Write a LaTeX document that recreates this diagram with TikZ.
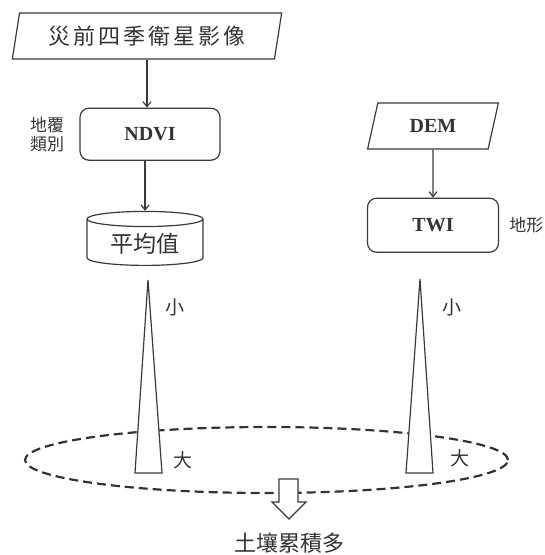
\documentclass[tikz,border=0pt]{standalone}
\usepackage{fontspec}
\setmainfont{Liberation Serif}
\newfontfamily\cjk{Noto Sans CJK TC}
\usepackage{tikz}
\usetikzlibrary{shapes.geometric, arrows.meta, positioning}
\definecolor{edge}{HTML}{3A3A3A}
\definecolor{ink}{HTML}{333333}

\begin{document}
\begin{tikzpicture}[
    x=1pt, y=1pt,
    inputbox/.style={trapezium, trapezium stretches=true, draw=edge, line width=1.2pt, fill=white,
                     minimum height=46pt, text=ink},
    procbox/.style={rectangle, rounded corners=9pt, draw=edge, line width=1.2pt, fill=white,
                    minimum height=52pt, font=\fontsize{20}{24}\selectfont\bfseries, text=ink},
    store/.style={cylinder, shape border rotate=90, aspect=0.2, draw=edge, line width=1.2pt, fill=white,
                  minimum width=116pt, minimum height=54pt, font=\cjk\fontsize{23}{26}\selectfont, text=ink},
    note/.style={font=\cjk\fontsize{17}{19}\selectfont, text=ink, align=center, inner sep=0pt},
    size/.style={font=\cjk\fontsize{19}{20}\selectfont, text=ink, inner sep=0pt},
    arrow/.style={-{Straight Barb[length=5pt, width=8pt]}, line width=1.2pt, color=edge},
    spike/.style={draw=edge, line width=1.2pt, fill=white, line join=miter},
    zone/.style={draw=ink, line width=2.2pt, dash pattern=on 9pt off 5pt},
]
\useasboundingbox (0,0) rectangle (545,555);

% NDVI branch
\node[inputbox, trapezium left angle=78, trapezium right angle=102, minimum width=270pt,
      font=\cjk\fontsize{22}{26}\selectfont\addfontfeature{LetterSpace=14}] (sat) at (147,519) {災前四季衛星影像};
\node[procbox, minimum width=140pt, below=48pt of sat, xshift=3pt] (ndvi) {NDVI};
\node[store, below=50pt of ndvi, xshift=-5pt] (mean) {平均值};
\node[note, left=15pt of ndvi] (cover) {地覆\\類別};

% TWI branch
\node[inputbox, trapezium left angle=76, trapezium right angle=104, minimum width=131pt,
      font=\fontsize{20}{24}\selectfont\bfseries] (dem) at (433,429) {DEM};
\node[procbox, minimum width=131pt, minimum height=54pt, below=48pt of dem] (twi) {TWI};
\node[note, right=10pt of twi] (terrain) {地形};

\draw[arrow] (sat.south) -- (sat.south |- ndvi.north);
\draw[arrow] (mean.north |- ndvi.south) -- (mean.north);
\draw[arrow] (dem) -- (twi);

% accumulation zone
\draw[zone] (266.5,95) ellipse [x radius=241.5, y radius=33];
\draw[spike] (135,82) -- (148,275) -- (162,82) -- cycle;
\draw[spike] (406,82) -- (420,276) -- (433,82) -- cycle;
\node[size] (small1) at (175,248) {小};
\node[size] (small2) at (452,248) {小};
\node[size] (large1) at (183,95) {大};
\node[size] (large2) at (460,97) {大};

\draw[spike] (279,76) -- (298,76) -- (298,53) -- (306,53) -- (289,36) -- (272,53) -- (279,53) -- cycle;
\node[font=\cjk\fontsize{22}{26}\selectfont, text=ink] (soil) at (289,12) {土壤累積多};

\end{tikzpicture}
\end{document}
